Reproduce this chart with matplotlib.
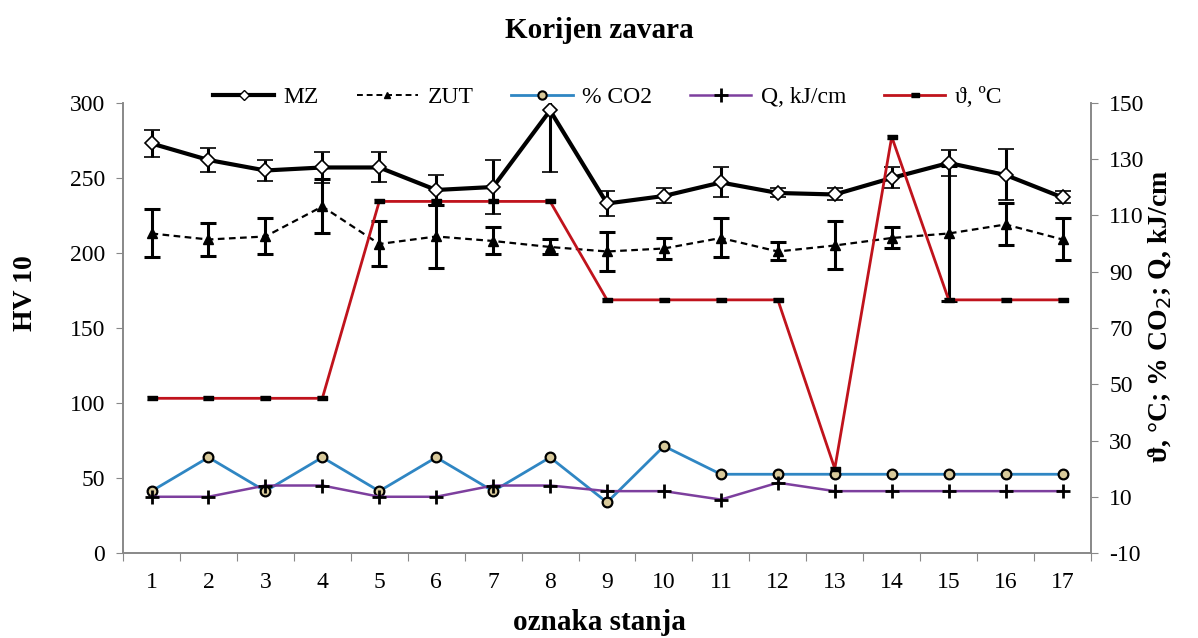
import numpy as np
import matplotlib.pyplot as plt
from matplotlib.lines import Line2D

plt.rcParams['font.family'] = ['Liberation Serif', 'DejaVu Serif']
plt.rcParams['axes.unicode_minus'] = False

# oznake stanja
stanje = list(range(1, 18))

# tvrdoca HV 10 (lijeva os)
mz = [273, 262, 255, 257, 257, 242, 244, 295, 233, 238, 247, 240, 239, 250, 260, 252, 237]
mz_err = [9, 8, 7, 10.5, 10, 10, 18, 41, 8.5, 5, 10, 3, 4, 7, 8.5, 17, 4]
zut = [213, 209, 211, 231, 206, 211, 208, 204, 201, 203, 210, 201, 205, 210, 213, 219, 209]
zut_err = [16, 11, 12, 18, 15, 21, 9, 5, 13, 7, 13, 6, 16, 7, 45, 14, 14]

# desna os
co2 = [12, 24, 12, 24, 12, 24, 12, 24, 8, 28, 18, 18, 18, 18, 18, 18, 18]
q = [10, 10, 14, 14, 10, 10, 14, 14, 12, 12, 9, 15, 12, 12, 12, 12, 12]
temp = [45, 45, 45, 45, 115, 115, 115, 115, 80, 80, 80, 80, 20, 138, 80, 80, 80]

fig = plt.figure(figsize=(11.98, 6.38), dpi=100)
ax = fig.add_axes([0.1027, 0.1332, 0.808, 0.7054])
ax2 = ax.twinx()

x = np.array(stanje)
ax.errorbar(x, mz, yerr=mz_err, color='black', lw=3, marker='D', ms=7,
            mfc='white', mec='black', mew=1.2, ecolor='black', elinewidth=2.2,
            capsize=6, capthick=2.2, zorder=3)
ax.errorbar(x, zut, yerr=zut_err, color='black', lw=1.6, ls=(0, (3, 2)), marker='^',
            ms=7, mfc='black', mec='black', ecolor='black', elinewidth=2.2,
            capsize=6, capthick=2.2, zorder=3)

rect = [(-1, -0.55), (1, -0.55), (1, 0.55), (-1, 0.55)]
ax2.plot(x, co2, color='#2f86c3', lw=2, marker='o', ms=7, mfc='#d8c99a', mec='black', mew=1.6)
ax2.plot(x, q, color='#7d3f9e', lw=1.8, marker='+', ms=10, mec='black', mew=2)
ax2.plot(x, temp, color='#c0131c', lw=2, marker=rect, ms=6.5, mfc='black', mec='black')

ax.set_xlim(0.5, 17.5)
ax.set_ylim(0, 300)
ax.set_yticks(np.arange(0, 301, 50))
ax2.set_ylim(-10, 150)
ax2.set_yticks(np.arange(-10, 151, 20))

# kategorije: crtice izmedju oznaka
ax.set_xticks(np.arange(0.5, 17.6, 1))
ax.set_xticklabels([])
ax.set_xticks(x, minor=True)
ax.set_xticklabels([str(s) for s in stanje], minor=True)
ax.tick_params(axis='x', which='minor', length=0, pad=14, labelsize=17)
ax.tick_params(axis='x', which='major', length=6, color='#888888')
ax.tick_params(axis='y', length=5, color='#888888', labelsize=17, pad=8)
ax2.tick_params(axis='y', length=5, color='#888888', labelsize=17, pad=8)

for a in (ax, ax2):
    a.spines['top'].set_visible(False)
    for s in ('left', 'right', 'bottom'):
        a.spines[s].set_color('#888888')
        a.spines[s].set_linewidth(1.2)

fig.text(0.5, 1 - 30 / 638, 'Korijen zavara', ha='center', va='center',
         fontsize=21, fontweight='bold')
fig.text(25 / 1198, 1 - 293 / 638, 'HV 10', rotation=90, ha='center', va='center',
         fontsize=20, fontweight='bold')
fig.text(1160 / 1198, 1 - 316 / 638, 'ϑ, °C; % CO$_2$; Q, kJ/cm', rotation=90,
         ha='center', va='center', fontsize=20, fontweight='bold')
fig.text(0.5, 1 - 622 / 638, 'oznaka stanja', ha='center', va='center',
         fontsize=21, fontweight='bold')

handles = [
    Line2D([], [], color='black', lw=3, marker='D', ms=5, mfc='white', mec='black'),
    Line2D([], [], color='black', lw=1.4, ls=(0, (3, 2)), marker='^', ms=5, mfc='black'),
    Line2D([], [], color='#2f86c3', lw=2, marker='o', ms=6, mfc='#d8c99a', mec='black', mew=1.5),
    Line2D([], [], color='#7d3f9e', lw=1.8, marker='+', ms=10, mec='black', mew=2),
    Line2D([], [], color='#c0131c', lw=2, marker=rect, ms=6, mfc='black', mec='black'),
]
labels = ['MZ', 'ZUT', '% CO2', 'Q, kJ/cm', 'ϑ, ºC']
ax.legend(handles, labels, loc='center', bbox_to_anchor=(0.5, 1.013), ncol=5,
          frameon=False, handlelength=2.6, columnspacing=1.6, handletextpad=0.4,
          prop={'family': ['Liberation Serif', 'DejaVu Serif'], 'size': 17})

fig.savefig('out.png', dpi=100)
